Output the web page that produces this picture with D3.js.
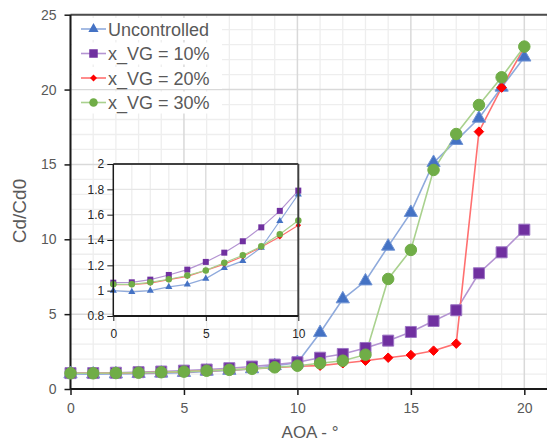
<!DOCTYPE html>
<html><head><meta charset="utf-8">
<script src="https://cdn.jsdelivr.net/npm/d3@7"></script>
<style>body{margin:0;background:#fff}svg{display:block;font-family:"Liberation Sans",Arial,sans-serif}</style>
</head><body><svg id="c" width="547" height="443"></svg>
<script>
const aoa = [0,1,2,3,4,5,6,7,8,9,10,11,12,13,14,15,16,17,18,19,20];
const uncontrolled = [1.0,0.99,1.0,1.03,1.05,1.095,1.18,1.235,1.34,1.55,1.76,3.76,6.01,7.21,9.53,11.78,15.12,16.59,18.08,20.15,22.16];
const vg10 = [1.063,1.066,1.087,1.124,1.166,1.227,1.30,1.39,1.50,1.63,1.79,2.09,2.34,2.74,3.23,3.81,4.54,5.26,7.73,9.13,10.64];
const vg20 = [1.047,1.047,1.06,1.087,1.113,1.16,1.21,1.27,1.345,1.425,1.517,1.56,1.72,1.89,2.09,2.27,2.56,3.03,17.19,20.13,22.8];
const vg30 = [1.05,1.05,1.066,1.09,1.12,1.16,1.22,1.28,1.35,1.446,1.554,1.72,1.89,2.29,7.35,9.29,14.63,17.03,18.97,20.82,22.87];
const seriesNames = ["Uncontrolled","x_VG = 10%","x_VG = 20%","x_VG = 30%"];
const xTicks = [0,5,10,15,20];
const yTicks = [0,5,10,15,20,25];
const insetXTicks = [0,5,10];
const insetYTicks = [0.8,1,1.2,1.4,1.6,1.8,2];

const series = [
  {name:seriesNames[0], vals:uncontrolled, shape:"tri", fill:"#4472C4", line:"#8FAADC", stroke:"#6f93d4"},
  {name:seriesNames[1], vals:vg10, shape:"sq", fill:"#7030A0", line:"#B494D2", stroke:"#9c74c4"},
  {name:seriesNames[2], vals:vg20, shape:"dia", fill:"#FF0000", line:"#FF7070", stroke:"#FF0000"},
  {name:seriesNames[3], vals:vg30, shape:"circ", fill:"#70AD47", line:"#A9D18E", stroke:"#70AD47"}
];

const svg = d3.select("#c");
const x = d3.scaleLinear().domain([0,21]).range([70.5,547]);
const y = d3.scaleLinear().domain([0,25]).range([389,14.7]);

function markerPath(shape, s){
  if(shape==="tri") return d3.symbol(d3.symbolTriangle, s*s*0.45)();
  if(shape==="sq") return d3.symbol(d3.symbolSquare, s*s)();
  if(shape==="dia") return `M0,${-s/2}L${s/2},0L0,${s/2}L${-s/2},0Z`;
  return d3.symbol(d3.symbolCircle, Math.PI*(s/2)*(s/2))();
}

// main grid
const g = svg.append("g");
d3.range(0,22,1).forEach(v=>{ if(v%5) g.append("line").attr("x1",x(v)).attr("x2",x(v)).attr("y1",y(0)).attr("y2",y(25)).attr("stroke","#eeeeee").attr("stroke-width",1.3);});
d3.range(0,26,1).forEach(v=>{ if(v%5) g.append("line").attr("x1",x(0)).attr("x2",547).attr("y1",y(v)).attr("y2",y(v)).attr("stroke","#eeeeee").attr("stroke-width",1.3);});
xTicks.forEach(v=>g.append("line").attr("x1",x(v)).attr("x2",x(v)).attr("y1",y(0)).attr("y2",y(25)).attr("stroke","#d9d9d9").attr("stroke-width",1.5));
yTicks.forEach(v=>g.append("line").attr("x1",x(0)).attr("x2",547).attr("y1",y(v)).attr("y2",y(v)).attr("stroke","#d9d9d9").attr("stroke-width",1.5));
// top border
g.append("line").attr("x1",x(0)).attr("x2",547).attr("y1",y(25)).attr("y2",y(25)).attr("stroke","#4d4d4d").attr("stroke-width",2);

// axes
const xAxis = svg.append("g").attr("transform",`translate(0,${y(0)})`)
  .call(d3.axisBottom(x).tickValues(xTicks).tickSize(6).tickPadding(8).tickFormat(d3.format("d")));
xAxis.select(".domain").attr("stroke","#1a1a1a").attr("stroke-width",2).attr("d",`M${x(0)},0H547`);
xAxis.selectAll("line").attr("stroke","#1a1a1a").attr("stroke-width",1.5);
xAxis.selectAll("text").attr("fill","#595959").style("font-size","14px");
const yAxis = svg.append("g").attr("transform",`translate(${x(0)},0)`)
  .call(d3.axisLeft(y).tickValues(yTicks).tickSize(6).tickPadding(8));
yAxis.select(".domain").attr("stroke","#1a1a1a").attr("stroke-width",2).attr("d",`M0,${y(0)}V${y(25)}`);
yAxis.selectAll("line").attr("stroke","#1a1a1a").attr("stroke-width",1.5);
yAxis.selectAll("text").attr("fill","#595959").style("font-size","14px");

svg.append("text").attr("x",310).attr("y",438).attr("text-anchor","middle").attr("fill","#595959").style("font-size","17px").text("AOA - °");
svg.append("text").attr("transform","translate(26,211) rotate(-90)").attr("text-anchor","middle").attr("fill","#595959").style("font-size","19px").text("Cd/Cd0");

// main series
const line = d3.line().x((d,i)=>x(aoa[i])).y(d=>y(d));
const mainSizes = {tri:13, sq:11, dia:9.5, circ:11.5};
series.forEach(s=>{
  svg.append("path").attr("d",line(s.vals)).attr("fill","none").attr("stroke",s.line).attr("stroke-width",1.6);
});
series.forEach(s=>{
  svg.append("g").selectAll("path").data(s.vals).join("path")
    .attr("transform",(d,i)=>`translate(${x(aoa[i])},${y(d)})`)
    .attr("d",markerPath(s.shape, mainSizes[s.shape]))
    .attr("fill",s.fill).attr("stroke",s.stroke).attr("stroke-width",1);
});

// inset
const ix = d3.scaleLinear().domain([0,10]).range([113.3,298.3]);
const iy = d3.scaleLinear().domain([0.8,2]).range([316,164]);
const ins = svg.append("g");
ins.append("rect").attr("x",ix(0)).attr("y",iy(2)).attr("width",ix(10)-ix(0)).attr("height",iy(0.8)-iy(2)).attr("fill","#fff");
d3.range(1,10).forEach(v=>ins.append("line").attr("x1",ix(v)).attr("x2",ix(v)).attr("y1",iy(0.8)).attr("y2",iy(2)).attr("stroke",v===5?"#d9d9d9":"#eeeeee").attr("stroke-width",1.3));
insetYTicks.slice(1,-1).forEach(v=>ins.append("line").attr("x1",ix(0)).attr("x2",ix(10)).attr("y1",iy(v)).attr("y2",iy(v)).attr("stroke","#e6e6e6").attr("stroke-width",1.3));
ins.append("clipPath").attr("id","ic").append("rect").attr("x",ix(0)).attr("y",iy(2)).attr("width",ix(10)-ix(0)).attr("height",iy(0.8)-iy(2));
const iline = d3.line().x((d,i)=>ix(aoa[i])).y(d=>iy(d));
const clipG = ins.append("g").attr("clip-path","url(#ic)");
series.forEach(s=>clipG.append("path").attr("d",iline(s.vals)).attr("fill","none").attr("stroke",s.line).attr("stroke-width",1.2));
const insSizes = {tri:7, sq:6, dia:5.5, circ:6.5};
series.forEach(s=>{
  ins.append("g").selectAll("path").data(s.vals.slice(0,11)).join("path")
    .attr("transform",(d,i)=>`translate(${ix(aoa[i])},${iy(d)})`)
    .attr("d",markerPath(s.shape, insSizes[s.shape]))
    .attr("fill",s.fill).attr("stroke","none");
});
// inset frame
ins.append("line").attr("x1",ix(0)).attr("x2",ix(10)).attr("y1",iy(2)).attr("y2",iy(2)).attr("stroke","#404040").attr("stroke-width",2);
ins.append("line").attr("x1",ix(10)).attr("x2",ix(10)).attr("y1",iy(2)).attr("y2",iy(0.8)).attr("stroke","#404040").attr("stroke-width",2);
const ixAxis = ins.append("g").attr("transform",`translate(0,${iy(0.8)})`)
  .call(d3.axisBottom(ix).tickValues(insetXTicks).tickSize(5).tickPadding(8).tickFormat(d3.format("d")));
ixAxis.select(".domain").attr("stroke","#1a1a1a").attr("stroke-width",2).attr("d",`M${ix(0)},0H${ix(10)}`);
ixAxis.selectAll("line").attr("stroke","#1a1a1a");
ixAxis.selectAll("text").attr("fill","#262626").style("font-size","12px");
const iyAxis = ins.append("g").attr("transform",`translate(${ix(0)},0)`)
  .call(d3.axisLeft(iy).tickValues(insetYTicks).tickSize(6).tickPadding(3).tickFormat(d=>d3.format("")(+d.toFixed(1))));
iyAxis.select(".domain").attr("stroke","#1a1a1a").attr("stroke-width",1.5).attr("d",`M0,${iy(0.8)}V${iy(2)}`);
iyAxis.selectAll("line").attr("stroke","#1a1a1a");
iyAxis.selectAll("text").attr("fill","#262626").style("font-size","12px");

// legend
const leg = svg.append("g");
series.forEach((s,i)=>{
  const yy = 29 + i*24.5;
  leg.append("rect").attr("x",72).attr("y",yy-11).attr("width",150).attr("height",22).attr("fill","#fff");
  leg.append("line").attr("x1",81).attr("x2",106).attr("y1",yy).attr("y2",yy).attr("stroke",s.line).attr("stroke-width",1.6);
  leg.append("path").attr("transform",`translate(93.5,${yy})`).attr("d",markerPath(s.shape, s.shape==="dia"?7:(s.shape==="tri"?10:8.5))).attr("fill",s.fill);
  leg.append("text").attr("x",108).attr("y",yy+6.5).attr("fill","#595959").style("font-size","18px").text(s.name);
});
</script></body></html>
